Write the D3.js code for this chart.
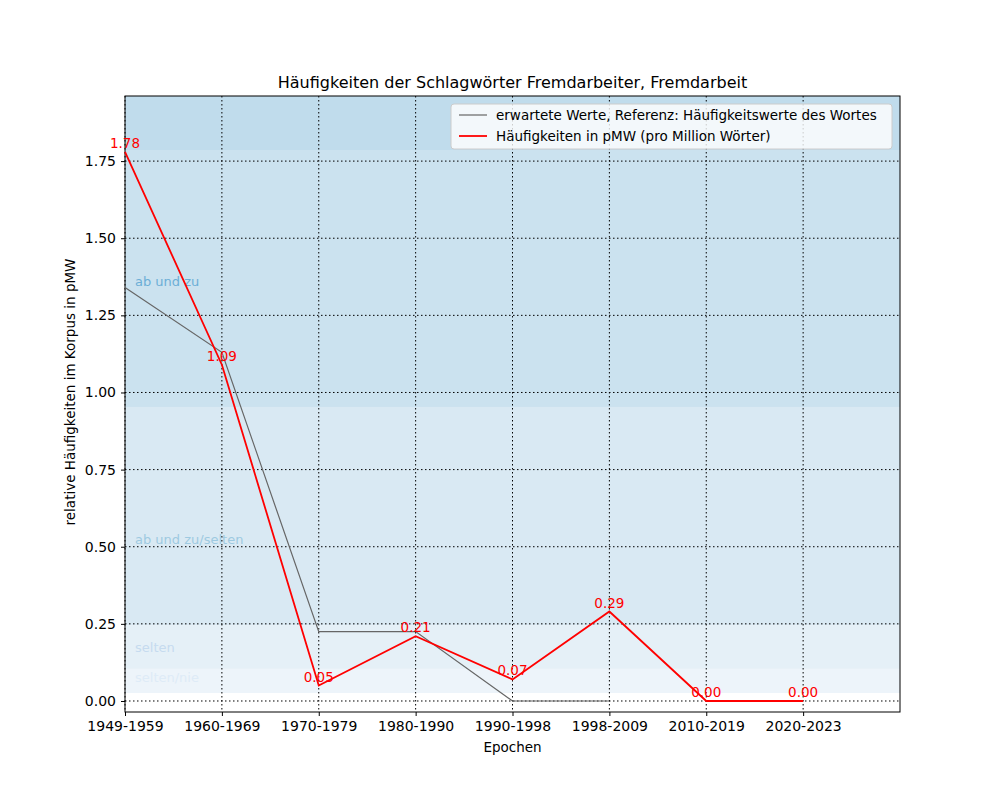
<!DOCTYPE html>
<html><head><meta charset="utf-8">
<script src="https://cdn.jsdelivr.net/npm/d3@7"></script>
<style>body{margin:0;background:#fff;font-family:"DejaVu Sans",sans-serif;}</style>
</head><body><div id="plot"></div>
<script>
var epochs = ["1949-1959","1960-1969","1970-1979","1980-1990","1990-1998","1998-2009","2010-2019","2020-2023"];
var expected = [1.34, 1.13, 0.225, 0.225, 0.0, 0.0];
var freq = [1.78, 1.09, 0.05, 0.21, 0.07, 0.29, 0.0, 0.0];
var yTicks = [0, 0.25, 0.5, 0.75, 1.0, 1.25, 1.5, 1.75];
var bands = [
  {lo: 1.786, hi: 1.961, color: "#c0dcec", label: null},
  {lo: 0.953, hi: 1.786, color: "#cbe2ef", label: "ab und zu", lc: "#6baed6", ly: 1.36},
  {lo: 0.246, hi: 0.953, color: "#d9e9f3", label: "ab und zu/selten", lc: "#9ecae1", ly: 0.525},
  {lo: 0.104, hi: 0.246, color: "#e5f0f7", label: "selten", lc: "#c6dbef", ly: 0.175},
  {lo: 0.026, hi: 0.104, color: "#edf4fa", label: "selten/nie", lc: "#deebf7", ly: 0.075}
];

var margin = {top: 96, left: 125},
    width = 775, height = 616;
var svg = d3.select("#plot").append("svg").attr("width", 1000).attr("height", 800)
  .append("g").attr("transform", "translate(" + margin.left + "," + margin.top + ")");

var x = d3.scaleLinear().domain([0, 8]).range([0, width]);
var y = d3.scaleLinear().domain([-0.0357, 1.961]).range([height, 0]);

// background bands
svg.selectAll(".band").data(bands).enter().append("rect")
  .attr("x", 0).attr("width", width)
  .attr("y", function (d) { return y(d.hi); })
  .attr("height", function (d) { return y(d.lo) - y(d.hi); })
  .attr("fill", function (d) { return d.color; });
svg.selectAll(".blabel").data(bands.filter(function (d) { return d.label; })).enter().append("text")
  .attr("x", 10).attr("y", function (d) { return y(d.ly); })
  .attr("dy", "0.35em").attr("fill", function (d) { return d.lc; })
  .style("font-size", "13px").text(function (d) { return d.label; });

// grid
svg.selectAll(".gx").data(d3.range(epochs.length)).enter().append("line")
  .attr("x1", x).attr("x2", x).attr("y1", 0).attr("y2", height)
  .attr("stroke", "#000").attr("stroke-dasharray", "1.5,2.5").attr("stroke-width", 1);
svg.selectAll(".gy").data(yTicks).enter().append("line")
  .attr("x1", 0).attr("x2", width).attr("y1", y).attr("y2", y)
  .attr("stroke", "#000").attr("stroke-dasharray", "1.5,2.5").attr("stroke-width", 1);

// axes
var xAxis = d3.axisBottom(x).tickValues(d3.range(epochs.length))
  .tickFormat(function (i) { return epochs[i]; }).tickSizeOuter(0).tickSize(4).tickPadding(5);
var yAxis = d3.axisLeft(y).tickValues(yTicks).tickFormat(d3.format(".2f")).tickSizeOuter(0).tickSize(4).tickPadding(5);
svg.append("g").attr("transform", "translate(0," + height + ")").call(xAxis)
  .attr("font-size", 14).attr("font-family", "DejaVu Sans")
  .selectAll("text").attr("fill", "#000");
svg.append("g").call(yAxis)
  .attr("font-size", 14).attr("font-family", "DejaVu Sans")
  .selectAll("text").attr("fill", "#000");
svg.selectAll(".domain").remove();
svg.append("rect").attr("width", width).attr("height", height)
  .attr("fill", "none").attr("stroke", "#000");

// lines
var line = d3.line().x(function (d, i) { return x(i); }).y(function (d) { return y(d); });
svg.append("path").datum(expected).attr("d", line).attr("fill", "none")
  .attr("stroke", "#666").attr("stroke-width", 1.2);
svg.append("path").datum(freq).attr("d", line).attr("fill", "none")
  .attr("stroke", "red").attr("stroke-width", 1.8);
svg.selectAll(".vl").data(freq).enter().append("text")
  .attr("x", function (d, i) { return x(i); }).attr("y", function (d) { return y(d) - 4; })
  .attr("text-anchor", "middle").attr("fill", "red").style("font-size", "13.5px")
  .text(function (d) { return d.toFixed(2); });

// titles
svg.append("text").attr("x", width / 2).attr("y", -8).attr("text-anchor", "middle")
  .style("font-size", "16px").text("Häufigkeiten der Schlagwörter Fremdarbeiter, Fremdarbeit");
svg.append("text").attr("x", width / 2).attr("y", height + 40).attr("text-anchor", "middle")
  .style("font-size", "13.5px").text("Epochen");
svg.append("text").attr("transform", "rotate(-90)").attr("x", -height / 2 + 12).attr("y", -50)
  .attr("text-anchor", "middle").style("font-size", "13.5px")
  .text("relative Häufigkeiten im Korpus in pMW");

// legend
var lg = svg.append("g").attr("transform", "translate(326,8)");
lg.append("rect").attr("width", 441).attr("height", 45).attr("rx", 3)
  .attr("fill", "#fff").attr("fill-opacity", 0.8).attr("stroke", "#ccc");
var items = [["erwartete Werte, Referenz: Häufigkeitswerte des Wortes", "#666", 1.2],
             ["Häufigkeiten in pMW (pro Million Wörter)", "red", 1.8]];
items.forEach(function (it, i) {
  var yy = 11 + i * 21;
  lg.append("line").attr("x1", 8).attr("x2", 36).attr("y1", yy).attr("y2", yy)
    .attr("stroke", it[1]).attr("stroke-width", it[2]);
  lg.append("text").attr("x", 45).attr("y", yy).attr("dy", "0.35em")
    .style("font-size", "13.5px").text(it[0]);
});
</script></body></html>
